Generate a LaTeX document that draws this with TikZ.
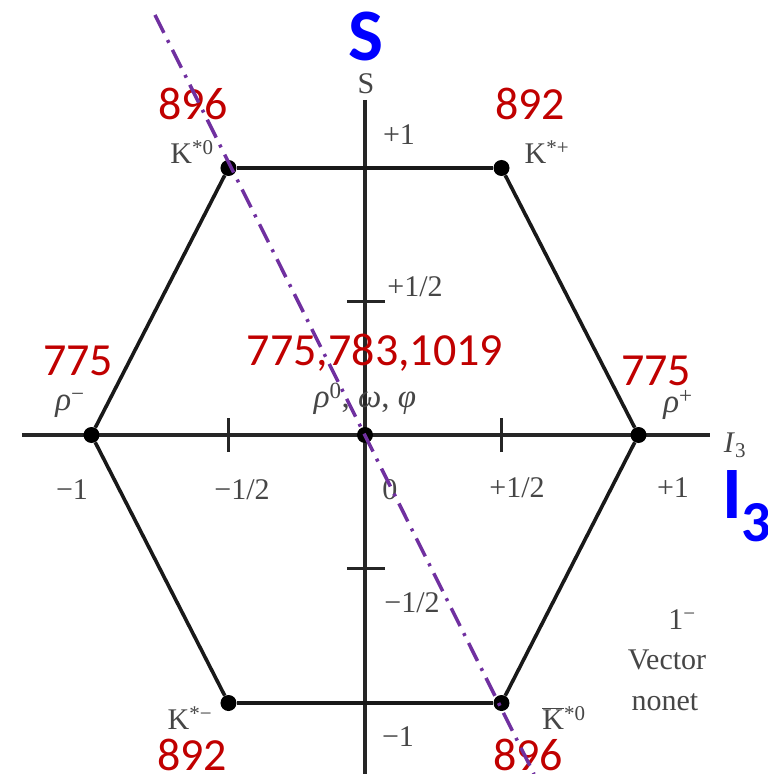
\documentclass[tikz,border=0pt]{standalone}
\usepackage{fontspec}
\setmainfont{Liberation Serif}
\newfontfamily\calibri{Carlito}
\definecolor{massred}{RGB}{192,0,0}
\definecolor{axisblue}{RGB}{0,0,255}
\definecolor{cutpurple}{RGB}{112,48,160}
\definecolor{scangray}{RGB}{70,70,70}
\usetikzlibrary{positioning}

\begin{document}
\begin{tikzpicture}[x=1pt, y=1pt,
    mesondot/.style={circle, fill=black, inner sep=0pt, minimum size=16pt},
    hexedge/.style={line width=3.6pt, black!90},
    axisline/.style={line width=3.2pt, black!85},
    ticklbl/.style={text=scangray, font=\fontsize{30}{30}\selectfont, inner sep=0pt},
    greeklbl/.style={text=scangray, font=\fontsize{33}{33}\selectfont, inner sep=0pt},
    masslbl/.style={text=massred, font=\calibri\fontsize{46}{46}\selectfont, inner sep=0pt, anchor=base},
    biglbl/.style={text=axisblue, font=\calibri\bfseries\fontsize{74}{74}\selectfont, inner sep=0pt}
  ]
    \useasboundingbox (-365,-339) rectangle (403,435);
    % axes
    \coordinate (ileft) at (-343,0);
    \coordinate (iright) at (345,0);
    \coordinate (stop) at (0,335);
    \coordinate (sbot) at (0,-339);
    \draw[axisline] (ileft) -- (iright);
    \draw[axisline] (stop) -- (sbot);
    \foreach \xt in {-136.5,136.5} \draw[axisline] (\xt,-17) -- (\xt,17);
    \foreach \yt in {-133.5,133.5} \draw[axisline] (-18,\yt) -- (20,\yt);
    % the nine states
    \node[mesondot] (kz)   at (-136.5,267)  {};
    \node[mesondot] (kp)   at (136.5,267)   {};
    \node[mesondot] (rhop) at (273.5,0)     {};
    \node[mesondot] (kzb)  at (136.5,-268)  {};
    \node[mesondot] (km)   at (-136.5,-268) {};
    \node[mesondot] (rhom) at (-273.5,0)    {};
    \node[mesondot] (mid)  at (0,0)         {};
    \draw[hexedge] (kz) -- (kp);
    \draw[hexedge] (kp) -- (rhop);
    \draw[hexedge] (rhop) -- (kzb);
    \draw[hexedge] (kzb) -- (km);
    \draw[hexedge] (km) -- (rhom);
    \draw[hexedge] (rhom) -- (kz);
    % printed labels
    \node[ticklbl] (slbl)  at (1,351)     {S};
    \node[ticklbl] (ilbl)  at (370,-10)   {\textit{I}\textsubscript{3}};
    \node[ticklbl] at (34,300)    {+1};
    \node[ticklbl] at (50,148)    {+1/2};
    \node[ticklbl] at (47,-168)   {−1/2};
    \node[ticklbl] at (33,-302)   {−1};
    \node[ticklbl] at (-293,-55)  {−1};
    \node[ticklbl] at (-123,-55)  {−1/2};
    \node[ticklbl] at (25,-55)    {0};
    \node[ticklbl] at (152,-53)   {+1/2};
    \node[ticklbl] at (308,-53)   {+1};
    \node[ticklbl] at (-173,283)  {K\textsuperscript{*0}};
    \node[ticklbl] at (182,283)   {K\textsuperscript{*+}};
    \node[greeklbl] at (-295,30)  {\textit{ρ}\textsuperscript{−}};
    \node[greeklbl] at (0,36)     {\textit{ρ}\textsuperscript{0}, \textit{ω}, \textit{φ}};
    \node[greeklbl] at (313,30)   {\textit{ρ}\textsuperscript{+}};
    \node[ticklbl] at (-175,-283) {K\textsuperscript{*−}};
    \node[ticklbl] at (199,-283)  {$\overline{\mbox{K}}$\textsuperscript{*0}};
    \node[ticklbl] at (317,-185)  {1\textsuperscript{−}};
    \node[ticklbl] at (302,-225)  {Vector};
    \node[ticklbl] at (300,-267)  {nonet};
    % masses
    \node[masslbl] at (-172,315) {896};
    \node[masslbl] at (165,315)  {892};
    \node[masslbl] at (-287,60)  {775};
    \node[masslbl] at (10,70)    {775,783,1019};
    \node[masslbl] at (291,50)   {775};
    \node[masslbl] at (-173,-335) {892};
    \node[masslbl] at (163,-335) {896};
    % big axis names
    \node[biglbl] at (1,399) {S};
    \node[biglbl, anchor=north west] at (357,-35) {I\raisebox{-0.32em}{\fontsize{58}{58}\selectfont 3}};
    % cut line
    \coordinate (cuttop) at (-210,420);
    \coordinate (cutbot) at (169,-339);
    \draw[cutpurple, line width=3.5pt, dash pattern=on 20pt off 8pt on 3pt off 8pt] (cuttop) -- (cutbot);
\end{tikzpicture}
\end{document}
